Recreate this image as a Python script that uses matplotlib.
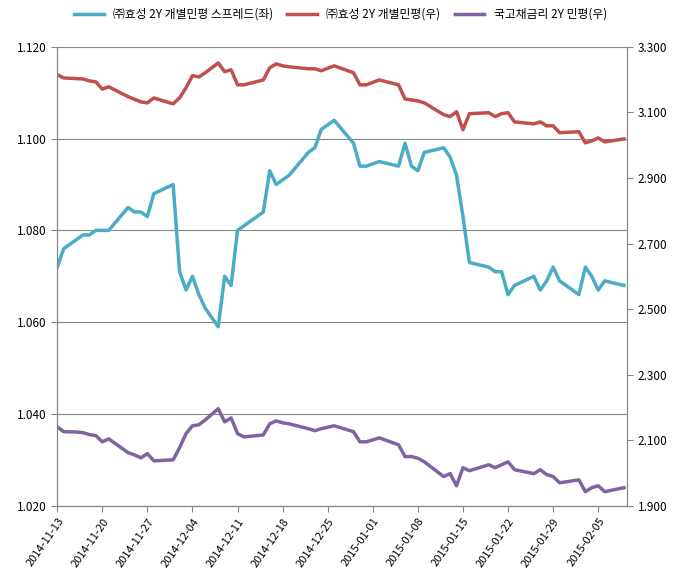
import matplotlib
matplotlib.use("Agg")
import matplotlib.pyplot as plt
import matplotlib.dates as mdates
import numpy as np
import pandas as pd

plt.rcParams["font.family"] = ["Noto Sans CJK JP", "Noto Sans CJK KR", "DejaVu Sans"]

start = pd.Timestamp("2014-11-13")
day_offsets = [0, 1, 3, 4, 5, 6, 7, 8, 11, 12, 13, 14, 15, 18, 19, 20, 21, 22, 23, 25,
               26, 27, 28, 29, 32, 33, 34, 35, 36, 39, 40, 41, 43, 46, 47, 48, 50, 53,
               54, 55, 56, 57, 60, 61, 62, 63, 64, 67, 68, 69, 70, 71, 74, 75, 76, 77,
               78, 81, 82, 83, 84, 85, 88]

spread = [1.072, 1.076, 1.078, 1.079, 1.079, 1.080, 1.080, 1.080, 1.085, 1.084, 1.084,
          1.083, 1.088, 1.090, 1.071, 1.067, 1.070, 1.066, 1.063, 1.059, 1.070, 1.068,
          1.080, 1.081, 1.084, 1.093, 1.090, 1.091, 1.092, 1.097, 1.098, 1.102, 1.104,
          1.099, 1.094, 1.094, 1.095, 1.094, 1.099, 1.094, 1.093, 1.097, 1.098, 1.096,
          1.092, 1.083, 1.073, 1.072, 1.071, 1.071, 1.066, 1.068, 1.070, 1.067, 1.069,
          1.072, 1.069, 1.066, 1.072, 1.070, 1.067, 1.069, 1.068]

hyosung = [3.215, 3.205, 3.203, 3.202, 3.196, 3.193, 3.171, 3.178, 3.148, 3.140, 3.132,
           3.129, 3.144, 3.126, 3.144, 3.175, 3.212, 3.208, 3.221, 3.251, 3.224, 3.230,
           3.184, 3.184, 3.199, 3.236, 3.248, 3.242, 3.239, 3.233, 3.233, 3.227, 3.242,
           3.221, 3.184, 3.184, 3.199, 3.184, 3.141, 3.138, 3.135, 3.129, 3.093, 3.087,
           3.102, 3.047, 3.096, 3.099, 3.087, 3.096, 3.099, 3.071, 3.065, 3.071, 3.059,
           3.059, 3.038, 3.041, 3.007, 3.013, 3.022, 3.010, 3.019]

govt = [2.141, 2.126, 2.125, 2.123, 2.117, 2.114, 2.095, 2.104, 2.062, 2.055, 2.046,
        2.059, 2.037, 2.040, 2.077, 2.120, 2.144, 2.147, 2.162, 2.196, 2.156, 2.168,
        2.120, 2.110, 2.116, 2.150, 2.159, 2.153, 2.150, 2.135, 2.129, 2.135, 2.144,
        2.126, 2.095, 2.095, 2.107, 2.086, 2.050, 2.050, 2.045, 2.034, 1.989, 1.998,
        1.961, 2.016, 2.007, 2.025, 2.016, 2.025, 2.034, 2.010, 1.998, 2.010, 1.995,
        1.989, 1.970, 1.979, 1.943, 1.955, 1.961, 1.943, 1.955]

labels = ["㈜효성 2Y 개별민평 스프레드(좌)", "㈜효성 2Y 개별민평(우)", "국고채금리 2Y 민평(우)"]
colors = ["#4bacc6", "#c0504d", "#8064a2"]

dates = start + pd.to_timedelta(day_offsets, unit="D")

fig = plt.figure(figsize=(6.81, 5.78), dpi=100)
ax = fig.add_axes([0.084, 0.125, 0.837, 0.794])
ax2 = ax.twinx()

l1, = ax.plot(dates, spread, color=colors[0], lw=2.5)
l2, = ax2.plot(dates, hyosung, color=colors[1], lw=2.5)
l3, = ax2.plot(dates, govt, color=colors[2], lw=2.5)

ax.set_ylim(1.020, 1.120)
ax.set_yticks(np.arange(1.020, 1.1201, 0.020))
ax.yaxis.set_major_formatter(matplotlib.ticker.FormatStrFormatter("%.3f"))
ax2.set_ylim(1.900, 3.300)
ax2.set_yticks(np.arange(1.900, 3.3001, 0.200))
ax2.yaxis.set_major_formatter(matplotlib.ticker.FormatStrFormatter("%.3f"))
ax.grid(axis="y", color="#868686", lw=0.8)
ax.set_axisbelow(True)

ax.set_xlim(start, start + pd.Timedelta(days=88.5))
ax.set_xticks(pd.date_range(start, periods=13, freq="7D"))
ax.xaxis.set_major_formatter(mdates.DateFormatter("%Y-%m-%d"))

for a in (ax, ax2):
    a.tick_params(labelsize=8.5, length=4, color="#868686")
    for s in a.spines.values():
        s.set_color("#868686")
ax.tick_params(axis="x", labelsize=8)
for lbl in ax.get_xticklabels():
    lbl.set_rotation(55)
    lbl.set_ha("right")
    lbl.set_rotation_mode("anchor")
ax.spines["top"].set_visible(False)
ax2.spines["top"].set_visible(False)

fig.legend([l1, l2, l3], labels, loc="upper center", bbox_to_anchor=(0.5, 1.005),
           ncol=3, frameon=False, fontsize=8.5, handlelength=2.5, columnspacing=1.2)

fig.savefig("out.png")
